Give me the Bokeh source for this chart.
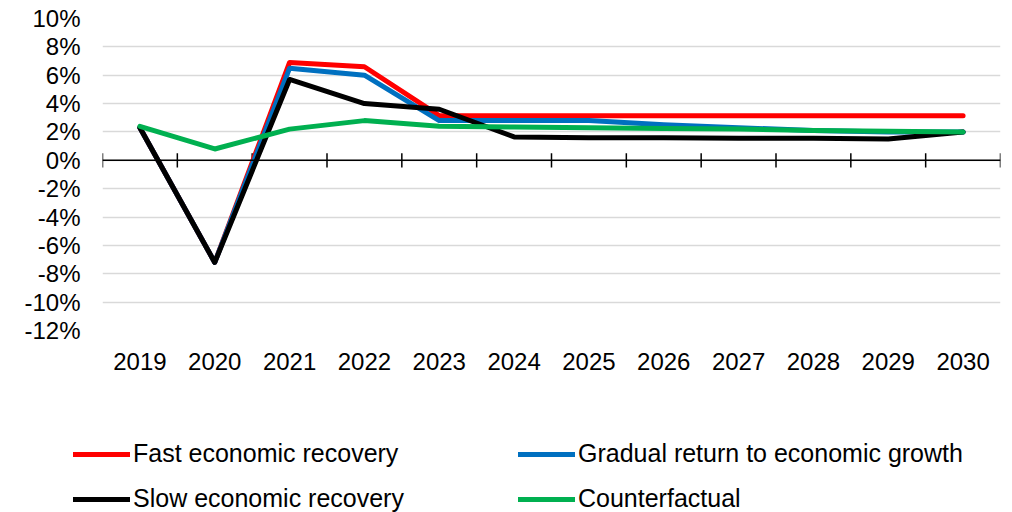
from bokeh.plotting import figure
from bokeh.layouts import column
from bokeh.models import Range1d, FixedTicker, Legend, LegendItem, Span, PrintfTickFormatter, ColumnDataSource
from bokeh.embed import file_html
from bokeh.resources import INLINE

years = ["2019", "2020", "2021", "2022", "2023", "2024", "2025", "2026", "2027", "2028", "2029", "2030"]
fast = [2.3, -7.2, 6.9, 6.6, 3.15, 3.15, 3.15, 3.15, 3.15, 3.15, 3.15, 3.15]
gradual = [2.3, -7.2, 6.5, 6.0, 2.8, 2.8, 2.8, 2.5, 2.3, 2.1, 2.0, 2.0]
slow = [2.3, -7.2, 5.7, 4.0, 3.6, 1.65, 1.6, 1.6, 1.55, 1.55, 1.5, 2.0]
counterfactual = [2.4, 0.8, 2.2, 2.8, 2.4, 2.35, 2.3, 2.25, 2.2, 2.1, 2.05, 2.0]
y_ticks = list(range(-12, 11, 2))

series_names = ["Fast economic recovery", "Gradual return to economic growth",
                "Slow economic recovery", "Counterfactual"]
series_cols = ["fast", "gradual", "slow", "cf"]
series_colors = ["#FF0000", "#0070C0", "#000000", "#00B050"]

FONT = "Liberation Sans"
n = len(years)
xs = [i + 0.5 for i in range(n)]

p = figure(width=1012, height=420, output_backend="svg", toolbar_location=None,
           x_range=Range1d(0, n), y_range=Range1d(-12, 10),
           min_border_left=102, min_border_right=12, min_border_top=18, min_border_bottom=90)
p.frame_align = False
p.outline_line_color = None
p.background_fill_color = "white"
p.border_fill_color = "white"

# axes
p.xaxis.ticker = FixedTicker(ticks=xs)
p.xaxis.major_label_overrides = {x: y for x, y in zip(xs, years)}
p.xaxis.axis_line_color = None
p.xaxis.major_tick_line_color = None
p.xaxis.minor_tick_line_color = None
p.xaxis.major_label_standoff = 16
p.xaxis.major_label_text_font = FONT
p.xaxis.major_label_text_font_size = "24px"
p.xaxis.major_label_text_color = "black"

p.yaxis.ticker = FixedTicker(ticks=y_ticks)
p.yaxis.formatter = PrintfTickFormatter(format="%d%%")
p.yaxis.axis_line_color = None
p.yaxis.major_tick_line_color = None
p.yaxis.minor_tick_line_color = None
p.yaxis.major_label_standoff = 16
p.yaxis.major_label_text_font = FONT
p.yaxis.major_label_text_font_size = "24px"
p.yaxis.major_label_text_color = "black"

p.xgrid.grid_line_color = None
p.ygrid.ticker = FixedTicker(ticks=y_ticks)
p.ygrid.grid_line_color = "#d9d9d9"
p.ygrid.grid_line_width = 1.5

# zero axis line with category boundary ticks
p.add_layout(Span(location=0, dimension="width", line_color="black", line_width=1.5))
bx = list(range(n + 1))
p.segment(x0=bx, x1=bx, y0=[-0.5] * len(bx), y1=[0.5] * len(bx), line_color="black", line_width=1.5)

src = ColumnDataSource(dict(x=xs, fast=fast, gradual=gradual, slow=slow, cf=counterfactual))
kw = dict(line_width=5, line_join="round", line_cap="round")
for col, color in zip(series_cols, series_colors):
    p.line("x", col, source=src, line_color=color, **kw)

# legend strip below the chart (its view range lies beyond the data, so only the legend shows)
lp = figure(width=1012, height=92, output_backend="svg", toolbar_location=None,
            x_range=Range1d(n + 1, n + 2), y_range=Range1d(-12, 10),
            x_axis_type=None, y_axis_type=None,
            min_border_left=0, min_border_right=0, min_border_top=0, min_border_bottom=0)
lp.frame_align = False
lp.outline_line_color = None
lp.xgrid.visible = False
lp.ygrid.visible = False
rs = [lp.line("x", col, source=src, line_color=c, **kw) for col, c in zip(series_cols, series_colors)]

def make_legend(idx, loc):
    return Legend(items=[LegendItem(label=series_names[i], renderers=[rs[i]]) for i in idx],
                  location=loc, glyph_width=57, glyph_height=28, label_height=28,
                  label_standoff=3, spacing=16, padding=0, margin=0,
                  label_text_font=FONT, label_text_font_size="25px", label_text_color="black",
                  border_line_alpha=0, background_fill_alpha=0)

lp.add_layout(make_legend([0, 2], (73, -1)))
lp.add_layout(make_legend([1, 3], (518, -1)))

layout = column(p, lp, spacing=0)
open("out.html", "w").write(file_html(layout, INLINE))
